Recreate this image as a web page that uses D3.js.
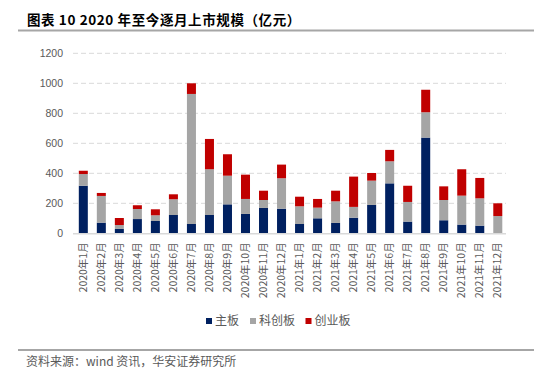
<!DOCTYPE html>
<html><head><meta charset="utf-8">
<script src="https://cdn.jsdelivr.net/npm/d3@7"></script>
<style>
html,body{margin:0;padding:0;background:#fff;}
svg{display:block;}
text{font-family:"Noto Sans CJK SC","Noto Sans",sans-serif;}
</style></head>
<body>
<script>
const months = ["2020年1月","2020年2月","2020年3月","2020年4月","2020年5月","2020年6月","2020年7月","2020年8月","2020年9月","2020年10月","2020年11月","2020年12月","2021年1月","2021年2月","2021年3月","2021年4月","2021年5月","2021年6月","2021年7月","2021年8月","2021年9月","2021年10月","2021年11月","2021年12月"];
const mainBoard = [317,71,29,95,82,122,62,122,193,129,169,164,62,100,69,104,189,333,78,638,87,58,51,0];
const starMarket = [78,178,26,67,38,105,867,305,191,100,53,203,118,71,144,72,162,147,131,169,135,193,182,115];
const chinext = [22,20,47,25,40,33,71,202,143,162,62,91,64,58,71,202,51,76,108,150,91,176,136,85];
const seriesNames = ["主板","科创板","创业板"];
const seriesColors = ["#002060","#A5A5A5","#C00000"];
const yTicks = [0,200,400,600,800,1000,1200];
const titleText = "图表 10 2020 年至今逐月上市规模（亿元）";
const sourceText = "资料来源：wind 资讯，华安证券研究所";

const W = 554, H = 379;
const svg = d3.select("body").append("svg").attr("width", W).attr("height", H);

// title and rules
svg.append("text").attr("x", 27).attr("y", 25).attr("font-size", 13.5).attr("font-weight", "bold")
  .attr("letter-spacing", 0.6).attr("fill", "#000").text(titleText);
svg.append("line").attr("x1", 18).attr("x2", 534).attr("y1", 30.5).attr("y2", 30.5)
  .attr("stroke", "#A6A6A6").attr("stroke-width", 2);
svg.append("line").attr("x1", 18).attr("x2", 534).attr("y1", 350).attr("y2", 350)
  .attr("stroke", "#A6A6A6").attr("stroke-width", 2);
svg.append("text").attr("x", 26).attr("y", 366).attr("font-size", 12).attr("fill", "#595959").text(sourceText);

const data = months.map((m, i) => ({month: m, a: mainBoard[i], b: starMarket[i], c: chinext[i]}));
const keys = ["a","b","c"];

const x = d3.scaleBand().domain(months).range([74.3, 506.8]).paddingInner(0.5).paddingOuter(0.25);
const y = d3.scaleLinear().domain([0, 1200]).range([233.3, 53.3]);

// gridlines
svg.append("g").selectAll("line").data(yTicks.filter(t => t > 0)).join("line")
  .attr("x1", 73).attr("x2", 506).attr("y1", d => y(d)).attr("y2", d => y(d))
  .attr("stroke", "#D9D9D9").attr("stroke-width", 1).attr("stroke-dasharray", "5,3");

// y axis labels
const yAxis = d3.axisLeft(y).tickValues(yTicks).tickFormat(d3.format("d")).tickSize(0).tickPadding(0);
const gy = svg.append("g").attr("transform", "translate(63,0)").call(yAxis);
gy.select(".domain").remove();
gy.selectAll("text").attr("font-size", 10.5).attr("fill", "#595959")
  .style("font-family", "'Liberation Sans','Noto Sans',sans-serif");

// bars
const stacked = d3.stack().keys(keys)(data);
svg.append("g").selectAll("g").data(stacked).join("g")
  .attr("fill", (d, i) => seriesColors[i])
  .selectAll("rect").data(d => d).join("rect")
  .attr("x", d => x(d.data.month)).attr("width", x.bandwidth())
  .attr("y", d => y(d[1])).attr("height", d => Math.max(0, y(d[0]) - y(d[1])));

// baseline
svg.append("line").attr("x1", 73).attr("x2", 506).attr("y1", y(0)+0.5).attr("y2", y(0)+0.5)
  .attr("stroke", "#D9D9D9").attr("stroke-width", 1.5);

// x axis labels
const xAxis = d3.axisBottom(x).tickSize(0).tickPadding(0);
const gx = svg.append("g").attr("transform", `translate(0,${y(0)})`).call(xAxis);
gx.select(".domain").remove();
gx.selectAll("text")
  .attr("font-size", 10.5).attr("fill", "#595959")
  .attr("transform", "rotate(-90)")
  .attr("text-anchor", "end").attr("dy", "0.35em").attr("x", -9).attr("y", 0);

// legend
const legendItems = [
  {name: seriesNames[0], color: seriesColors[0], sx: 206, tx: 215},
  {name: seriesNames[1], color: seriesColors[1], sx: 250, tx: 259},
  {name: seriesNames[2], color: seriesColors[2], sx: 305.5, tx: 314.5}
];
const lg = svg.append("g");
lg.selectAll("rect").data(legendItems).join("rect")
  .attr("x", d => d.sx).attr("y", 318).attr("width", 6).attr("height", 6).attr("fill", d => d.color);
lg.selectAll("text").data(legendItems).join("text")
  .attr("x", d => d.tx).attr("y", 321).attr("dy", "0.35em")
  .attr("font-size", 12).attr("fill", "#595959").text(d => d.name);
</script>
</body></html>
